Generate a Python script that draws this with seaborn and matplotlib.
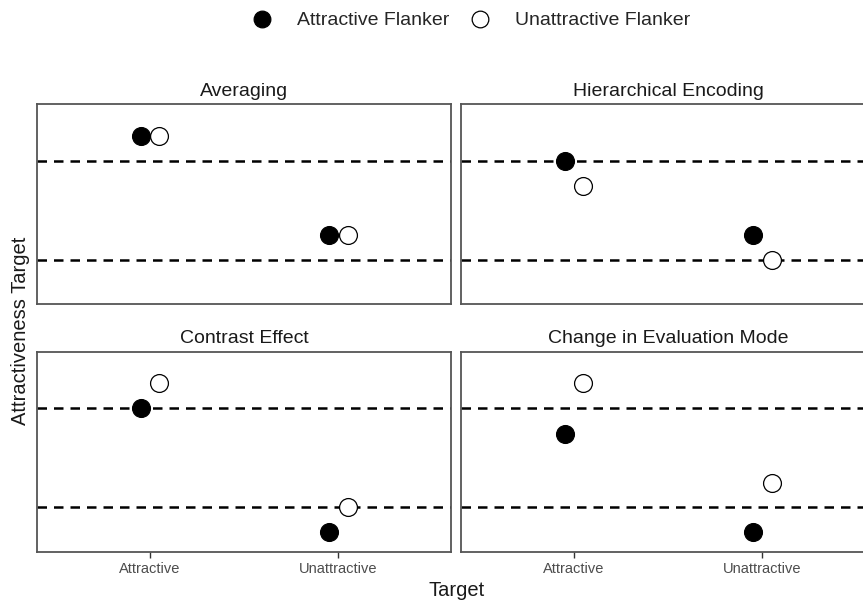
import matplotlib
matplotlib.use("Agg")
import matplotlib.pyplot as plt
from matplotlib.lines import Line2D
import numpy as np
import pandas as pd
import seaborn as sns

# panel order as in the reference
panels = ['Averaging', 'Hierarchical Encoding', 'Contrast Effect', 'Change in Evaluation Mode']
targets = ['Attractive', 'Unattractive']
flankers = ['Attractive Flanker', 'Unattractive Flanker']

# (dashed reference lines sit at 1 and 0)
attr_flanker = {
    'Averaging': [1.25, 0.25],
    'Hierarchical Encoding': [1.0, 0.25],
    'Contrast Effect': [1.0, -0.25],
    'Change in Evaluation Mode': [0.74, -0.25],
}
unattr_flanker = {
    'Averaging': [1.25, 0.25],
    'Hierarchical Encoding': [0.74, 0.0],
    'Contrast Effect': [1.25, 0.0],
    'Change in Evaluation Mode': [1.25, 0.25],
}
ref_lines = [1.0, 0.0]

rows = []
for p in panels:
    for i, t in enumerate(targets):
        rows.append({'panel': p, 'target': t, 'flanker': flankers[0], 'value': attr_flanker[p][i]})
        rows.append({'panel': p, 'target': t, 'flanker': flankers[1], 'value': unattr_flanker[p][i]})
df = pd.DataFrame(rows)
dodge = {flankers[0]: -0.05, flankers[1]: 0.05}
df['xpos'] = df['target'].map({t: i for i, t in enumerate(targets)}) + df['flanker'].map(dodge)

sns.set_theme(style='white')
plt.rcParams['font.family'] = ['Liberation Sans', 'DejaVu Sans']

fig, axes = plt.subplots(2, 2, figsize=(8.63, 6.03), dpi=100)
# right column runs off the edge like in the reference
fig.subplots_adjust(left=0.0429, right=1.0139, top=0.8276, bottom=0.0845, wspace=0.0242, hspace=0.235)

fills = {flankers[0]: 'black', flankers[1]: 'white'}
for ax, p in zip(axes.flat, panels):
    for y in ref_lines:
        ax.axhline(y, color='black', lw=1.8, ls=(0, (3.8, 2.8)), zorder=1)
    sub = df[df['panel'] == p]
    for f in flankers:
        sns.scatterplot(data=sub[sub['flanker'] == f], x='xpos', y='value', ax=ax,
                        color=fills[f], edgecolor='black', linewidth=0.9, s=165, zorder=3, legend=False)
    ax.set_xlim(-0.6, 1.6)
    ax.set_ylim(-0.45, 1.57)
    ax.set_title(p, fontsize=14, pad=6, color='#1a1a1a')
    ax.set_xlabel('')
    ax.set_ylabel('')
    ax.set_yticks([])
    ax.set_xticks([0, 1])
    if ax in axes[1]:
        ax.set_xticklabels(targets, fontsize=10.5, color='#4d4d4d')
        ax.tick_params(axis='x', length=4, width=1, color='#333333', bottom=True, pad=3)
    else:
        ax.set_xticklabels([])
        ax.tick_params(axis='x', length=0)
    for s in ax.spines.values():
        s.set_color('#555555')
        s.set_linewidth(1.3)

fig.text(0.529, 0.021, 'Target', ha='center', va='center', fontsize=14.5, color='#1a1a1a')
fig.text(0.024, 0.452, 'Attractiveness Target', ha='center', va='center', rotation=90,
         fontsize=14.5, color='#1a1a1a')

handles = [Line2D([], [], marker='o', ls='none', markersize=12, markerfacecolor=fills[f],
                  markeredgecolor='black', markeredgewidth=0.9) for f in flankers]
fig.legend(handles, flankers, loc='center', bbox_to_anchor=(0.546, 0.966), ncol=2,
           frameon=False, fontsize=14, handlelength=1.0, handletextpad=1.3, columnspacing=1.05)

plt.savefig('out.png', dpi=100)
